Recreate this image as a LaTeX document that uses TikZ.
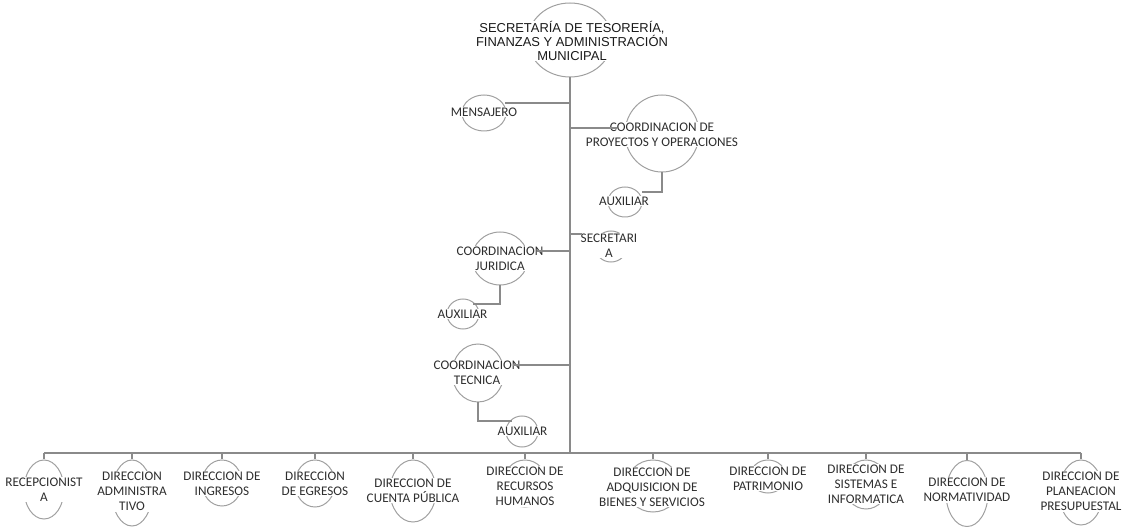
\documentclass[tikz,border=0pt]{standalone}
\usepackage{fontspec}
\setmainfont{Carlito}
\newfontfamily\titlefont{Liberation Sans}
\usetikzlibrary{shapes.geometric,calc}
\definecolor{linegray}{HTML}{8A8A8A}
\definecolor{arcgray}{HTML}{A0A0A0}
\definecolor{txtgray}{HTML}{2E2E2E}
\begin{document}
\begin{tikzpicture}[x=0.75pt,y=-0.75pt,
  ell/.style 2 args={ellipse, draw=arcgray, line width=0.75pt, minimum width={2*#1*0.75pt}, minimum height={2*#2*0.75pt}, inner sep=0pt},
  lbl/.style={fill=white, inner sep=0.6pt, align=center, text=txtgray, font=\fontsize{9.9}{11.2}\selectfont},
  ttl/.style={fill=white, inner sep=0.6pt, align=center, text=black!90, font=\titlefont\fontsize{9.7}{10.2}\selectfont},
  conn/.style={draw=linegray, line width=1pt}]
\useasboundingbox (0,0) rectangle (1122,527);
% shapes
\node[ell={42}{37}] (sec) at (570,40) {};
\node[ell={22}{18}] (men) at (484,113) {};
\node[ell={37}{38.5}] (pro) at (662,133.5) {};
\node[ell={17}{15}] (aux1) at (625,202) {};
\node[ell={16}{15.5}] (scr) at (611,246.5) {};
\node[ell={28}{26.5}] (jur) at (500,258.5) {};
\node[ell={16}{15}] (aux2) at (463,314) {};
\node[ell={26}{29}] (tec) at (478,373) {};
\node[ell={16}{15.5}] (aux3) at (522,431.5) {};
\node[ell={20}{29.5}] (d1) at (44,489.5) {};
\node[ell={20}{33}] (d2) at (132,493) {};
\node[ell={20}{23}] (d3) at (222,483) {};
\node[ell={20}{23.5}] (d4) at (315,483.5) {};
\node[ell={23}{31}] (d5) at (413,491) {};
\node[ell={22}{23.5}] (d6) at (525,483.5) {};
\node[ell={27}{26}] (d7) at (653,486) {};
\node[ell={18}{16.5}] (d8) at (768,476.5) {};
\node[ell={22}{24.5}] (d9) at (866,484.5) {};
\node[ell={21}{33}] (d10) at (967,493.5) {};
\node[ell={22}{32.5}] (d11) at (1081,492.5) {};
% texts
\node[ttl] (sect) at (572,41) {SECRETARÍA DE TESORERÍA,\\FINANZAS Y ADMINISTRACIÓN\\MUNICIPAL};
\node[lbl] (ment) at (484,112) {MENSAJERO};
\node[lbl] (prot) at (662,134.5) {COORDINACION DE\\PROYECTOS Y OPERACIONES};
\node[lbl] (aux1t) at (624,201) {AUXILIAR};
\node[lbl] (scrt) at (609,245.5) {SECRETARI\\A};
\node[lbl] (jurt) at (500,258.5) {COORDINACION\\JURIDICA};
\node[lbl] (aux2t) at (462.5,314) {AUXILIAR};
\node[lbl] (tect) at (477,372.5) {COORDINACION\\TECNICA};
\node[lbl] (aux3t) at (522.5,431) {AUXILIAR};
\node[lbl] (d1t) at (44,489.5) {RECEPCIONIST\\A};
\node[lbl] (d2t) at (132,491.5) {DIRECCION\\ADMINISTRA\\TIVO};
\node[lbl] (d3t) at (222,483.5) {DIRECCION DE\\INGRESOS};
\node[lbl] (d4t) at (315,483.5) {DIRECCION\\DE EGRESOS};
\node[lbl] (d5t) at (413,490.5) {DIRECCION DE\\CUENTA PÚBLICA};
\node[lbl] (d6t) at (525,486.5) {DIRECCION DE\\RECURSOS\\HUMANOS};
\node[lbl] (d7t) at (652,487) {DIRECCION DE\\ADQUISICION DE\\BIENES Y SERVICIOS};
\node[lbl] (d8t) at (768,478.5) {DIRECCION DE\\PATRIMONIO};
\node[lbl] (d9t) at (866,484) {DIRECCION DE\\SISTEMAS E\\INFORMATICA};
\node[lbl] (d10t) at (967,490) {DIRECCION DE\\NORMATIVIDAD};
\node[lbl] (d11t) at (1081,491.5) {DIRECCION DE\\PLANEACION\\PRESUPUESTAL};
% connectors
\coordinate (bus) at (570,453);
\draw[conn] (sec.south) -- (bus);
\draw[conn] (d1.north |- bus) -- (d11.north |- bus);
\foreach \n in {d1,d2,d3,d4,d5,d6,d7,d8,d9,d10,d11}{
  \draw[conn] (\n.north |- bus) -- (\n.north);
}
\coordinate (menC) at ($(men)+(21,-10)$);
\draw[conn] (menC) -- (menC -| bus);
\coordinate (proC) at ($(pro)+(-45,-5.5)$);
\draw[conn] (proC -| bus) -- (proC);
\coordinate (a1C) at ($(aux1)+(17,-10)$);
\draw[conn] (pro.south) |- (a1C);
\coordinate (scrC) at ($(scr)+(-29,-12.5)$);
\draw[conn] (scrC -| bus) -- (scrC);
\coordinate (jurC) at ($(jur)+(37,-7.5)$);
\draw[conn] (jurC) -- (jurC -| bus);
\coordinate (a2C) at ($(aux2)+(10,-10)$);
\draw[conn] (jur.south) |- (a2C);
\coordinate (tecC) at ($(tec)+(35,-8)$);
\draw[conn] (tecC) -- (tecC -| bus);
\coordinate (a3C) at ($(aux3)+(-10,-10.5)$);
\draw[conn] (tec.south) |- (a3C);
\end{tikzpicture}
\end{document}
